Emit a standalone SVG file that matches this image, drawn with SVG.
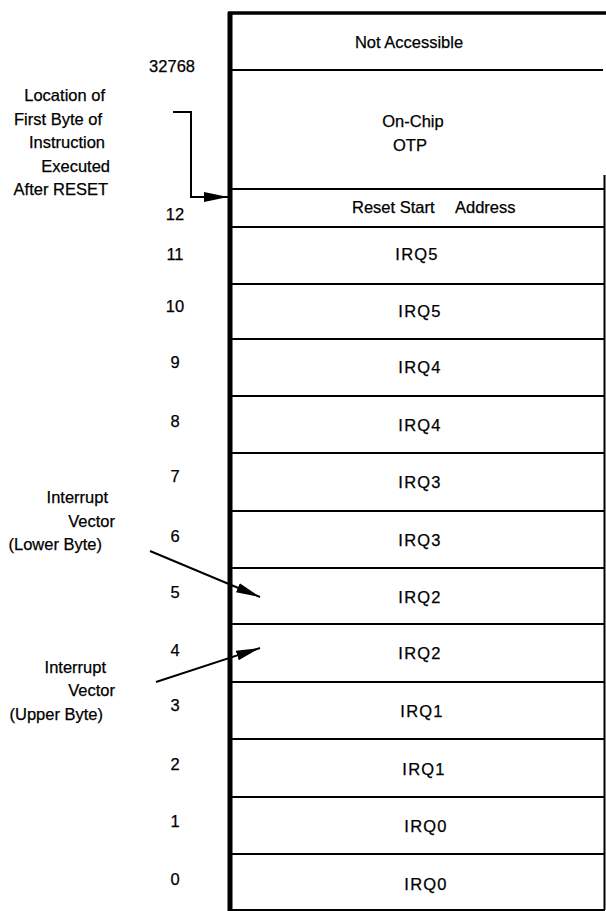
<svg xmlns="http://www.w3.org/2000/svg" width="606" height="911" viewBox="0 0 606 911">
<style>
  text { font-family: "Liberation Sans", Arial, sans-serif; font-size: 16.5px; fill: #000; stroke: #000; stroke-width: 0.25; }
  .c { text-anchor: middle; }
  .r { text-anchor: end; }
  .irq { text-anchor: middle; letter-spacing: 1.2px; }
  .row { stroke: #000; stroke-width: 2; fill: none; }
  .conn { stroke: #000; stroke-width: 2; fill: none; }
</style>
<defs>
  <marker id="ah2" viewBox="0 0 24 10" refX="24" refY="5" markerWidth="24" markerHeight="10" markerUnits="userSpaceOnUse" orient="auto">
    <path d="M0,0 L24,5 L0,10 z" fill="#000"/>
  </marker>
</defs>

<g id="memory-map">
  <g id="outline">
    <line x1="228" y1="13" x2="606" y2="13" stroke="#000" stroke-width="3.5"/>
    <line x1="230" y1="12" x2="230" y2="911" stroke="#000" stroke-width="5"/>
    <line x1="604.5" y1="175" x2="604.5" y2="910" stroke="#000" stroke-width="2"/>
    <line x1="230" y1="910" x2="605" y2="910" stroke="#000" stroke-width="2"/>
  </g>
  <g id="n-not-accessible">
    <text class="c" x="409" y="48">Not Accessible</text>
    <line class="row" x1="230" y1="70" x2="603" y2="70"/>
  </g>
  <g id="n-otp">
    <text class="c" x="413" y="127">On-Chip</text>
    <text class="c" x="410" y="151">OTP</text>
    <line class="row" x1="230" y1="189" x2="605" y2="189"/>
  </g>
  <g id="n-reset">
    <text x="352" y="213">Reset Start</text>
    <text x="455" y="213">Address</text>
    <line class="row" x1="230" y1="227" x2="605" y2="227"/>
  </g>
  <g id="n-11"><text class="irq" x="417" y="260">IRQ5</text><line class="row" x1="230" y1="284" x2="605" y2="284"/></g>
  <g id="n-10"><text class="irq" x="420" y="317">IRQ5</text><line class="row" x1="230" y1="339" x2="605" y2="339"/></g>
  <g id="n-9"><text class="irq" x="420" y="373">IRQ4</text><line class="row" x1="230" y1="396" x2="605" y2="396"/></g>
  <g id="n-8"><text class="irq" x="420" y="431">IRQ4</text><line class="row" x1="230" y1="453" x2="605" y2="453"/></g>
  <g id="n-7"><text class="irq" x="420" y="488">IRQ3</text><line class="row" x1="230" y1="511" x2="605" y2="511"/></g>
  <g id="n-6"><text class="irq" x="420" y="546">IRQ3</text><line class="row" x1="230" y1="568" x2="605" y2="568"/></g>
  <g id="n-5"><text class="irq" x="420" y="603">IRQ2</text><line class="row" x1="230" y1="624" x2="605" y2="624"/></g>
  <g id="n-4"><text class="irq" x="420" y="659">IRQ2</text><line class="row" x1="230" y1="682" x2="605" y2="682"/></g>
  <g id="n-3"><text class="irq" x="422" y="717">IRQ1</text><line class="row" x1="230" y1="739" x2="605" y2="739"/></g>
  <g id="n-2"><text class="irq" x="424" y="775">IRQ1</text><line class="row" x1="230" y1="797" x2="605" y2="797"/></g>
  <g id="n-1"><text class="irq" x="426" y="832">IRQ0</text><line class="row" x1="230" y1="854" x2="605" y2="854"/></g>
  <g id="n-0"><text class="irq" x="426" y="890">IRQ0</text></g>
</g>

<g id="addresses">
  <text class="r" x="195" y="72">32768</text>
  <text class="c" x="175" y="220">12</text>
  <text class="c" x="175" y="260">11</text>
  <text class="c" x="175" y="312">10</text>
  <text class="c" x="175" y="368">9</text>
  <text class="c" x="175" y="427">8</text>
  <text class="c" x="175" y="482">7</text>
  <text class="c" x="175" y="542">6</text>
  <text class="c" x="175" y="598">5</text>
  <text class="c" x="175" y="656">4</text>
  <text class="c" x="175" y="711">3</text>
  <text class="c" x="175" y="770">2</text>
  <text class="c" x="175" y="827">1</text>
  <text class="c" x="175" y="885">0</text>
</g>

<g id="label-reset">
  <text class="r" x="105" y="101">Location of</text>
  <text class="r" x="102" y="125">First Byte of</text>
  <text class="r" x="105" y="148">Instruction</text>
  <text class="r" x="110" y="172">Executed</text>
  <text class="r" x="108" y="195">After RESET</text>
</g>
<g id="label-lower">
  <text class="r" x="108" y="503">Interrupt</text>
  <text class="r" x="115" y="527">Vector</text>
  <text class="r" x="102" y="550">(Lower Byte)</text>
</g>
<g id="label-upper">
  <text class="r" x="106" y="673">Interrupt</text>
  <text class="r" x="115" y="696">Vector</text>
  <text class="r" x="103" y="720">(Upper Byte)</text>
</g>

<g id="connectors">
  <path class="conn" d="M173,112 H191 V197 H228" marker-end="url(#ah2)"/>
  <line class="conn" x1="150" y1="551" x2="260" y2="597" marker-end="url(#ah2)"/>
  <line class="conn" x1="156" y1="682" x2="260" y2="648" marker-end="url(#ah2)"/>
</g>
</svg>
